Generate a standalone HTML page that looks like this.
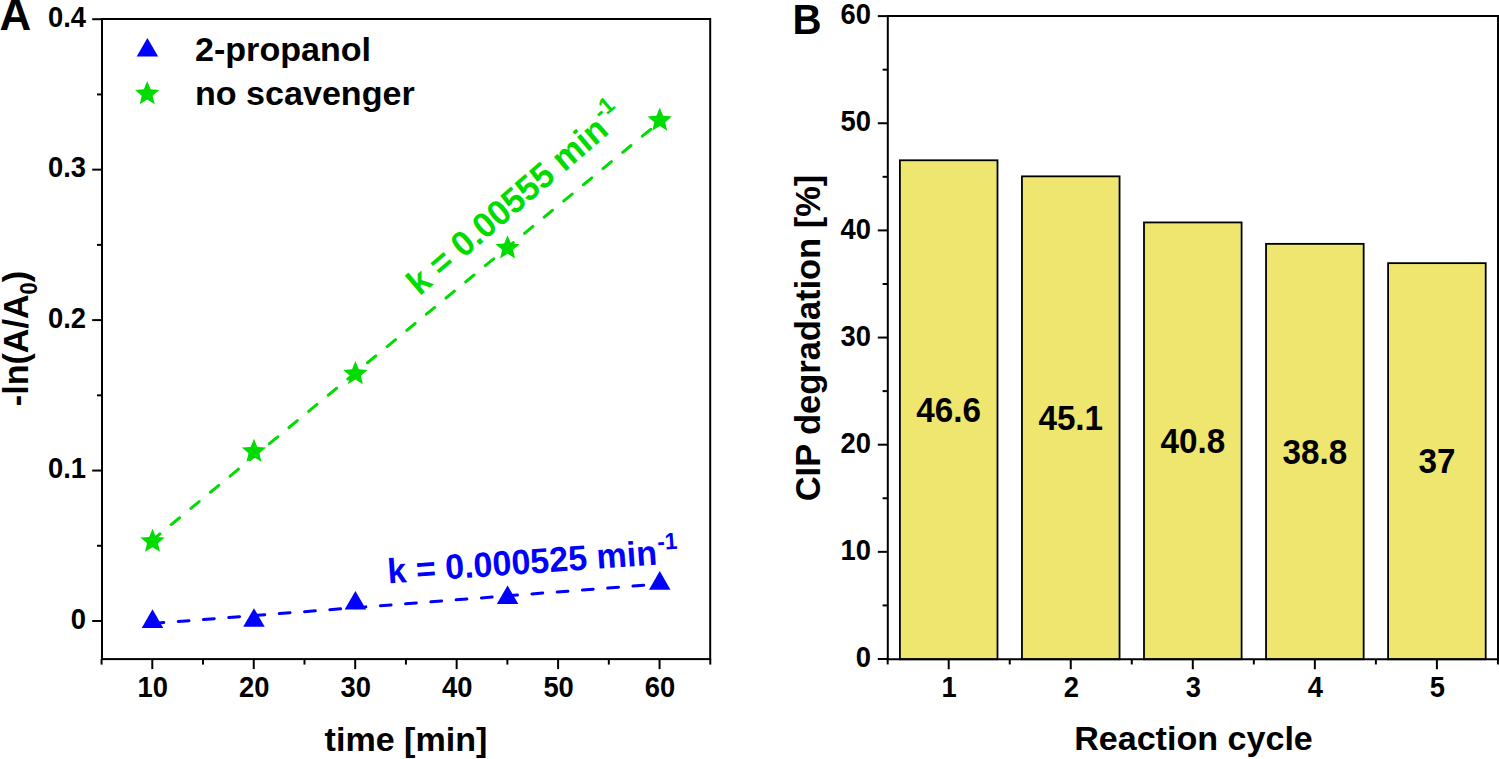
<!DOCTYPE html>
<html lang="en"><head><meta charset="utf-8"><title>Figure</title>
<style>html,body{margin:0;padding:0;background:#fff;}svg{display:block;}text{font-family:"Liberation Sans", Arial, Helvetica, sans-serif;font-weight:bold;}</style>
</head><body>
<svg width="1499" height="759" viewBox="0 0 1499 759">
<rect x="0" y="0" width="1499" height="759" fill="#ffffff"/>
<g id="panelA">
<text transform="translate(-0.50,29.90)" font-size="43.9">A</text>
<g stroke="#000" stroke-width="2" fill="none" stroke-linecap="butt">
<rect x="102.00" y="19.00" width="608.20" height="640.10"/>
<line x1="152.30" y1="659.10" x2="152.30" y2="669.10"/>
<line x1="253.75" y1="659.10" x2="253.75" y2="669.10"/>
<line x1="355.20" y1="659.10" x2="355.20" y2="669.10"/>
<line x1="456.65" y1="659.10" x2="456.65" y2="669.10"/>
<line x1="558.10" y1="659.10" x2="558.10" y2="669.10"/>
<line x1="659.55" y1="659.10" x2="659.55" y2="669.10"/>
<line x1="101.58" y1="659.10" x2="101.58" y2="664.60"/>
<line x1="203.03" y1="659.10" x2="203.03" y2="664.60"/>
<line x1="304.48" y1="659.10" x2="304.48" y2="664.60"/>
<line x1="405.93" y1="659.10" x2="405.93" y2="664.60"/>
<line x1="507.38" y1="659.10" x2="507.38" y2="664.60"/>
<line x1="608.83" y1="659.10" x2="608.83" y2="664.60"/>
<line x1="710.28" y1="659.10" x2="710.28" y2="664.60"/>
<line x1="92.20" y1="621.00" x2="102.00" y2="621.00"/>
<line x1="92.20" y1="470.55" x2="102.00" y2="470.55"/>
<line x1="92.20" y1="320.10" x2="102.00" y2="320.10"/>
<line x1="92.20" y1="169.65" x2="102.00" y2="169.65"/>
<line x1="92.20" y1="19.20" x2="102.00" y2="19.20"/>
<line x1="97.00" y1="545.77" x2="102.00" y2="545.77"/>
<line x1="97.00" y1="395.33" x2="102.00" y2="395.33"/>
<line x1="97.00" y1="244.88" x2="102.00" y2="244.88"/>
<line x1="97.00" y1="94.43" x2="102.00" y2="94.43"/>
</g>
<text transform="translate(152.80,696.50) scale(0.96,1.045)" font-size="28.5" text-anchor="middle">10</text>
<text transform="translate(254.25,696.50) scale(0.96,1.045)" font-size="28.5" text-anchor="middle">20</text>
<text transform="translate(355.70,696.50) scale(0.96,1.045)" font-size="28.5" text-anchor="middle">30</text>
<text transform="translate(457.15,696.50) scale(0.96,1.045)" font-size="28.5" text-anchor="middle">40</text>
<text transform="translate(558.60,696.50) scale(0.96,1.045)" font-size="28.5" text-anchor="middle">50</text>
<text transform="translate(660.05,696.50) scale(0.96,1.045)" font-size="28.5" text-anchor="middle">60</text>
<text transform="translate(86.00,628.50) scale(0.96,1.045)" font-size="28.5" text-anchor="end">0</text>
<text transform="translate(86.00,478.05) scale(0.96,1.045)" font-size="28.5" text-anchor="end">0.1</text>
<text transform="translate(86.00,327.60) scale(0.96,1.045)" font-size="28.5" text-anchor="end">0.2</text>
<text transform="translate(86.00,177.15) scale(0.96,1.045)" font-size="28.5" text-anchor="end">0.3</text>
<text transform="translate(86.00,26.70) scale(0.96,1.045)" font-size="28.5" text-anchor="end">0.4</text>
<text x="406" y="750.8" font-size="34.1" text-anchor="middle">time [min]</text>
<text transform="translate(28.20,338.50) rotate(-90) scale(1.0,1.05)" font-size="34.1" text-anchor="middle">-ln(A/A<tspan font-size="22" dy="8.6">0</tspan><tspan dy="-8.6">)</tspan></text>
<polygon points="147.40,38.00 158.14,56.60 136.66,56.60" fill="#0000FF"/>
<polygon points="147.20,81.10 150.55,89.29 159.37,89.94 152.62,95.66 154.72,104.26 147.20,99.60 139.68,104.26 141.78,95.66 135.03,89.94 143.85,89.29" fill="#00DC00"/>
<text x="195" y="61.4" font-size="34.1">2-propanol</text>
<text x="195" y="104.7" font-size="34.1">no scavenger</text>
<line x1="152.30" y1="540.20" x2="659.55" y2="122.00" stroke="#00DC00" stroke-width="3" stroke-linecap="round" stroke-dasharray="10.8 14.64" stroke-dashoffset="0.9"/>
<line x1="152.30" y1="623.50" x2="659.55" y2="584.01" stroke="#0000FF" stroke-width="3" stroke-linecap="round" stroke-dasharray="10.8 14.54" stroke-dashoffset="-0.65"/>
<polygon points="152.50,528.70 155.85,536.89 164.67,537.54 157.92,543.26 160.02,551.86 152.50,547.20 144.98,551.86 147.08,543.26 140.33,537.54 149.15,536.89" fill="#00DC00"/>
<polygon points="253.95,438.70 257.30,446.89 266.12,447.54 259.37,453.26 261.47,461.86 253.95,457.20 246.43,461.86 248.53,453.26 241.78,447.54 250.60,446.89" fill="#00DC00"/>
<polygon points="355.40,361.10 358.75,369.29 367.57,369.94 360.82,375.66 362.92,384.26 355.40,379.60 347.88,384.26 349.98,375.66 343.23,369.94 352.05,369.29" fill="#00DC00"/>
<polygon points="507.57,235.30 510.93,243.49 519.75,244.14 513.00,249.86 515.10,258.46 507.57,253.80 500.05,258.46 502.15,249.86 495.40,244.14 504.22,243.49" fill="#00DC00"/>
<polygon points="659.75,107.60 663.10,115.79 671.92,116.44 665.17,122.16 667.27,130.76 659.75,126.10 652.23,130.76 654.33,122.16 647.58,116.44 656.40,115.79" fill="#00DC00"/>
<polygon points="152.50,609.30 163.24,627.90 141.76,627.90" fill="#0000FF"/>
<polygon points="253.95,608.20 264.69,626.80 243.21,626.80" fill="#0000FF"/>
<polygon points="355.40,590.90 366.14,609.50 344.66,609.50" fill="#0000FF"/>
<polygon points="507.57,585.40 518.31,604.00 496.84,604.00" fill="#0000FF"/>
<polygon points="659.75,571.10 670.49,589.70 649.01,589.70" fill="#0000FF"/>
<g transform="translate(419.60,296.50) rotate(-40.6)" fill="#00DC00"><text transform="scale(1,1.03)" font-size="34.1">k = 0.00555 min</text><text transform="translate(252.38,-15.50) scale(1,1.04)" font-size="22.5">-1</text></g>
<g transform="translate(388.30,583.40) rotate(-4)" fill="#0000FF"><text transform="scale(1,1.03)" font-size="34.1">k = 0.000525 min</text><text transform="translate(271.14,-14.50) scale(1,1.04)" font-size="22.5">-1</text></g>
</g>
<g id="panelB">
<text transform="translate(792.50,33.90) scale(1.0,1.04)" font-size="40.2">B</text>
<g fill="#EEE66E" stroke="#000" stroke-width="1.8">
<rect x="899.90" y="160.28" width="97.60" height="498.97"/>
<rect x="1021.95" y="176.35" width="97.60" height="482.90"/>
<rect x="1144.00" y="222.43" width="97.60" height="436.82"/>
<rect x="1266.05" y="243.86" width="97.60" height="415.39"/>
<rect x="1388.10" y="263.15" width="97.60" height="396.10"/>
</g>
<g stroke="#000" stroke-width="2" fill="none">
<rect x="887.80" y="16.00" width="610.20" height="643.25"/>
<line x1="948.70" y1="659.25" x2="948.70" y2="669.25"/>
<line x1="1070.75" y1="659.25" x2="1070.75" y2="669.25"/>
<line x1="1192.80" y1="659.25" x2="1192.80" y2="669.25"/>
<line x1="1314.85" y1="659.25" x2="1314.85" y2="669.25"/>
<line x1="1436.90" y1="659.25" x2="1436.90" y2="669.25"/>
<line x1="887.68" y1="659.25" x2="887.68" y2="664.45"/>
<line x1="1009.73" y1="659.25" x2="1009.73" y2="664.45"/>
<line x1="1131.78" y1="659.25" x2="1131.78" y2="664.45"/>
<line x1="1253.83" y1="659.25" x2="1253.83" y2="664.45"/>
<line x1="1375.88" y1="659.25" x2="1375.88" y2="664.45"/>
<line x1="1497.93" y1="659.25" x2="1497.93" y2="664.45"/>
<line x1="877.80" y1="659.00" x2="887.80" y2="659.00"/>
<line x1="877.80" y1="551.85" x2="887.80" y2="551.85"/>
<line x1="877.80" y1="444.70" x2="887.80" y2="444.70"/>
<line x1="877.80" y1="337.55" x2="887.80" y2="337.55"/>
<line x1="877.80" y1="230.40" x2="887.80" y2="230.40"/>
<line x1="877.80" y1="123.25" x2="887.80" y2="123.25"/>
<line x1="877.80" y1="16.10" x2="887.80" y2="16.10"/>
<line x1="882.60" y1="605.42" x2="887.80" y2="605.42"/>
<line x1="882.60" y1="498.27" x2="887.80" y2="498.27"/>
<line x1="882.60" y1="391.12" x2="887.80" y2="391.12"/>
<line x1="882.60" y1="283.98" x2="887.80" y2="283.98"/>
<line x1="882.60" y1="176.82" x2="887.80" y2="176.82"/>
<line x1="882.60" y1="69.67" x2="887.80" y2="69.67"/>
</g>
<text transform="translate(949.20,696.90) scale(0.96,1.045)" font-size="28.5" text-anchor="middle">1</text>
<text transform="translate(1071.25,696.90) scale(0.96,1.045)" font-size="28.5" text-anchor="middle">2</text>
<text transform="translate(1193.30,696.90) scale(0.96,1.045)" font-size="28.5" text-anchor="middle">3</text>
<text transform="translate(1315.35,696.90) scale(0.96,1.045)" font-size="28.5" text-anchor="middle">4</text>
<text transform="translate(1437.40,696.90) scale(0.96,1.045)" font-size="28.5" text-anchor="middle">5</text>
<text transform="translate(871.00,667.10) scale(0.96,1.045)" font-size="28.5" text-anchor="end">0</text>
<text transform="translate(871.00,559.95) scale(0.96,1.045)" font-size="28.5" text-anchor="end">10</text>
<text transform="translate(871.00,452.80) scale(0.96,1.045)" font-size="28.5" text-anchor="end">20</text>
<text transform="translate(871.00,345.65) scale(0.96,1.045)" font-size="28.5" text-anchor="end">30</text>
<text transform="translate(871.00,238.50) scale(0.96,1.045)" font-size="28.5" text-anchor="end">40</text>
<text transform="translate(871.00,131.35) scale(0.96,1.045)" font-size="28.5" text-anchor="end">50</text>
<text transform="translate(871.00,24.20) scale(0.96,1.045)" font-size="28.5" text-anchor="end">60</text>
<text transform="translate(948.70,421.87) scale(0.975,1.045)" font-size="34.1" text-anchor="middle">46.6</text>
<text transform="translate(1070.75,429.90) scale(0.975,1.045)" font-size="34.1" text-anchor="middle">45.1</text>
<text transform="translate(1192.80,452.94) scale(0.975,1.045)" font-size="34.1" text-anchor="middle">40.8</text>
<text transform="translate(1314.85,463.65) scale(0.975,1.045)" font-size="34.1" text-anchor="middle">38.8</text>
<text transform="translate(1436.90,473.30) scale(0.975,1.045)" font-size="34.1" text-anchor="middle">37</text>
<text x="1193.5" y="750.4" font-size="34.1" text-anchor="middle">Reaction cycle</text>
<text transform="translate(819.60,338.00) rotate(-90) scale(1.0,1.035)" font-size="34.45" text-anchor="middle">CIP degradation [%]</text>
</g>
</svg></body></html>
